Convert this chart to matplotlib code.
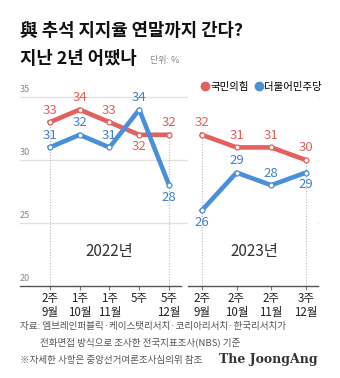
import matplotlib.pyplot as plt
from matplotlib.lines import Line2D

plt.rcParams['font.family'] = ['Noto Sans CJK KR', 'DejaVu Sans']

# 2022 survey points
labels_2022 = ['2주\n9월', '1주\n10월', '1주\n11월', '5주', '5주\n12월']
ppp_2022 = [33, 34, 33, 32, 32]
dem_2022 = [31, 32, 31, 34, 28]

# 2023 survey points
labels_2023 = ['2주\n9월', '2주\n10월', '2주\n11월', '3주\n12월']
ppp_2023 = [32, 31, 31, 30]
dem_2023 = [26, 29, 28, 29]

# label placement: True = above the point
ppp_above_2022 = [True, True, True, False, True]
dem_above_2022 = [True, True, True, True, False]
ppp_above_2023 = [True, True, True, True]
dem_above_2023 = [False, True, True, False]

RED = '#E4605C'
BLUE = '#4A8FDA'
RED_TXT = '#E0605B'
BLUE_TXT = '#3F80CC'
GRID = '#E2E2E2'

fig = plt.figure(figsize=(3.4, 3.78), dpi=100)
fig.patch.set_facecolor('white')

H = 378.0
W = 340.0
ax1 = fig.add_axes([20 / W, 1 - 286 / H, 161 / W, (286 - 90.7) / H])
ax2 = fig.add_axes([188 / W, 1 - 286 / H, 130 / W, (286 - 90.7) / H])


def draw_panel(ax, ticklabels, ppp, dem, ppp_up, dem_up, year, year_x):
    xs = list(range(len(ppp)))
    ax.set_ylim(20, 35.5)
    for s in ['top', 'right', 'left']:
        ax.spines[s].set_visible(False)
    ax.spines['bottom'].set_color('#555555')
    ax.spines['bottom'].set_linewidth(1.0)
    ax.set_yticks([])
    ax.set_xticks(xs)
    ax.set_xticklabels(ticklabels, fontsize=8.3, color='#222222', linespacing=1.05)
    ax.tick_params(axis='x', length=3, color='#777777', pad=1.5)

    # dotted guides at the first and last survey
    for i in (0, len(xs) - 1):
        top = max(ppp[i], dem[i])
        ax.plot([i, i], [20, top], color='#BBBBBB', lw=0.8, ls=(0, (1, 1.5)), zorder=1)

    for vals, col, txtcol, ups in ((ppp, RED, RED_TXT, ppp_up), (dem, BLUE, BLUE_TXT, dem_up)):
        ax.plot(xs, vals, color=col, lw=3.3, solid_joinstyle='round', zorder=3)
        ax.plot(xs, vals, ls='none', marker='o', ms=3.6, mfc='white', mec=col, mew=0.9, zorder=4)
        for x, v, up in zip(xs, vals, ups):
            ax.annotate(str(v), (x, v), xytext=(0, 4 if up else -4), textcoords='offset points',
                        ha='center', va='bottom' if up else 'top', fontsize=9.5,
                        color=txtcol, zorder=5)

    ax.text(year_x, 22.7, year, ha='center', va='center', fontsize=11, color='#333333')


draw_panel(ax1, labels_2022, ppp_2022, dem_2022, ppp_above_2022, dem_above_2022, '2022년', 2)
ax1.set_xlim(-1.0, 4.4)
draw_panel(ax2, labels_2023, ppp_2023, dem_2023, ppp_above_2023, dem_above_2023, '2023년', 1.5)
ax2.set_xlim(-0.4, 3.35)

# horizontal grid running across both panels
for y in (25, 30, 35):
    ax1.axhline(y, xmin=0, xmax=298 / 161, color=GRID, lw=1.0, zorder=0, clip_on=False)
for y in (20, 25, 30, 35):
    ax1.annotate(str(y), (0, y), xycoords=('axes fraction', 'data'), xytext=(0, 2.5),
                 textcoords='offset points', ha='left', va='bottom', fontsize=6.5, color='#888888')

# title block
fig.text(20 / W, 1 - 31 / H, '與 추석 지지율 연말까지 간다?', fontsize=12.8, fontweight='bold',
         color='#111111', ha='left', va='center')
fig.text(20 / W, 1 - 59 / H, '지난 2년 어땠나', fontsize=12.8, fontweight='bold',
         color='#111111', ha='left', va='center')
fig.text(150 / W, 1 - 60 / H, '단위: %', fontsize=6.5, color='#888888', ha='left', va='center')

# legend
handles = [Line2D([], [], ls='none', marker='o', ms=6, mfc=RED, mec=RED),
           Line2D([], [], ls='none', marker='o', ms=6, mfc=BLUE, mec=BLUE)]
fig.legend(handles, ['국민의힘', '더불어민주당'], loc='center right', bbox_to_anchor=(322 / W, 1 - 87 / H),
           ncol=2, frameon=False, fontsize=7.5, handlelength=0.6, handletextpad=0.25,
           columnspacing=0.6, borderpad=0, borderaxespad=0)

# footer
fig.text(20 / W, 1 - 326 / H, '자료: 엠브레인퍼블릭·케이스탯리서치·코리아리서치·한국리서치가',
         fontsize=6.9, color='#555555', ha='left', va='center')
fig.text(40 / W, 1 - 342 / H, '전화면접 방식으로 조사한 전국지표조사(NBS) 기준',
         fontsize=6.9, color='#555555', ha='left', va='center')
fig.text(20 / W, 1 - 360 / H, '※자세한 사항은 중앙선거여론조사심의위 참조',
         fontsize=6.9, color='#555555', ha='left', va='center')
fig.text(318 / W, 1 - 360 / H, 'The JoongAng', fontsize=9, fontweight='bold',
         family='DejaVu Serif', color='#333333', ha='right', va='center')

fig.savefig('out.png', dpi=100, facecolor='white')
